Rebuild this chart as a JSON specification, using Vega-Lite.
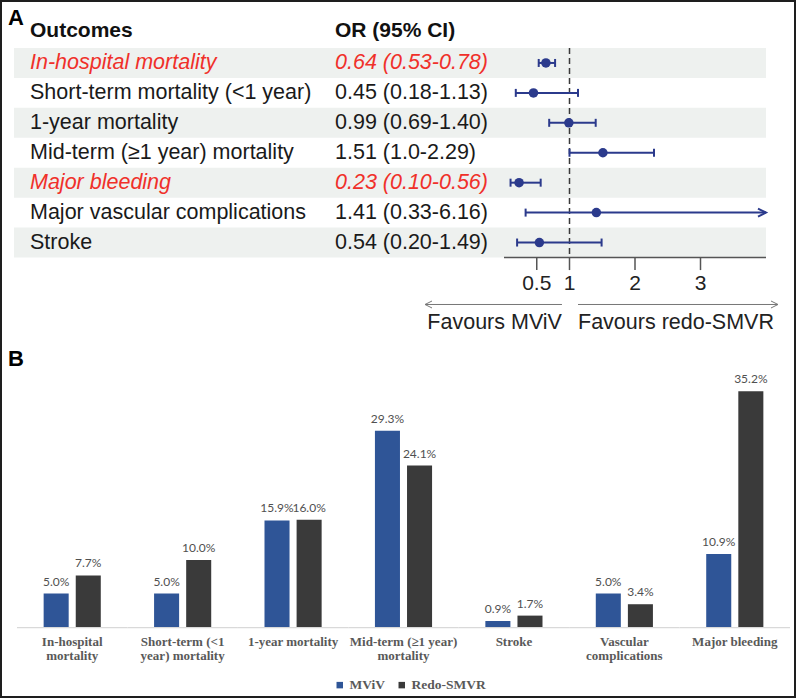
{
  "$schema": "https://vega.github.io/schema/vega-lite/v6.json",
  "width": 794,
  "height": 696,
  "padding": 1,
  "autosize": {"type": "none"},
  "background": "white",
  "config": {
    "view": {"stroke": "#1e1e1e", "strokeWidth": 2},
    "axis": {"disable": true},
    "font": "Liberation Sans"
  },
  "datasets": {
    "forest": [
      {"row": 1, "outcome": "In-hospital mortality", "or": 0.64, "lo": 0.53, "hi": 0.78, "ci": "0.64 (0.53-0.78)", "sig": true},
      {"row": 2, "outcome": "Short-term mortality (<1 year)", "or": 0.45, "lo": 0.18, "hi": 1.13, "ci": "0.45 (0.18-1.13)", "sig": false},
      {"row": 3, "outcome": "1-year mortality", "or": 0.99, "lo": 0.69, "hi": 1.40, "ci": "0.99 (0.69-1.40)", "sig": false},
      {"row": 4, "outcome": "Mid-term (≥1 year) mortality", "or": 1.51, "lo": 1.0, "hi": 2.29, "ci": "1.51 (1.0-2.29)", "sig": false},
      {"row": 5, "outcome": "Major bleeding", "or": 0.23, "lo": 0.10, "hi": 0.56, "ci": "0.23 (0.10-0.56)", "sig": true},
      {"row": 6, "outcome": "Major vascular complications", "or": 1.41, "lo": 0.33, "hi": 6.16, "ci": "1.41 (0.33-6.16)", "sig": false},
      {"row": 7, "outcome": "Stroke", "or": 0.54, "lo": 0.20, "hi": 1.49, "ci": "0.54 (0.20-1.49)", "sig": false}
    ],
    "bars": [
      {"cat": "In-hospital\nmortality", "group": "MViV", "value": 0.050},
      {"cat": "In-hospital\nmortality", "group": "Redo-SMVR", "value": 0.077},
      {"cat": "Short-term (<1\nyear) mortality", "group": "MViV", "value": 0.050},
      {"cat": "Short-term (<1\nyear) mortality", "group": "Redo-SMVR", "value": 0.100},
      {"cat": "1-year mortality", "group": "MViV", "value": 0.159},
      {"cat": "1-year mortality", "group": "Redo-SMVR", "value": 0.160},
      {"cat": "Mid-term (≥1 year)\nmortality", "group": "MViV", "value": 0.293},
      {"cat": "Mid-term (≥1 year)\nmortality", "group": "Redo-SMVR", "value": 0.241},
      {"cat": "Stroke", "group": "MViV", "value": 0.009},
      {"cat": "Stroke", "group": "Redo-SMVR", "value": 0.017},
      {"cat": "Vascular\ncomplications", "group": "MViV", "value": 0.050},
      {"cat": "Vascular\ncomplications", "group": "Redo-SMVR", "value": 0.034},
      {"cat": "Major bleeding", "group": "MViV", "value": 0.109},
      {"cat": "Major bleeding", "group": "Redo-SMVR", "value": 0.352}
    ]
  },
  "layer": [
    {
      "data": {"name": "forest"},
      "transform": [{"filter": "datum.row % 2 == 1"}],
      "mark": {"type": "rule", "strokeWidth": 30, "color": "#EEF1EF", "strokeCap": "butt"},
      "encoding": {
        "x": {"datum": 0, "type": "quantitative", "scale": {"domain": [0, 1], "range": [13, 765]}},
        "x2": {"datum": 1},
        "y": {"field": "row", "type": "quantitative", "scale": {"domain": [0.5, 7.5], "range": [47, 256.5]}}
      }
    },
    {
      "data": {"name": "forest"},
      "layer": [
        {
          "data": {"values": [{}]},
          "mark": {"type": "rule", "strokeDash": [6, 4], "color": "#3a3a3a", "strokeWidth": 1.5},
          "encoding": {
            "x": {"datum": 1, "type": "quantitative", "scale": {"domain": [0, 4], "range": [503, 765]}},
            "y": {"datum": 0.5, "type": "quantitative", "scale": {"domain": [0.5, 7.5], "range": [47, 256.5]}},
            "y2": {"datum": 7.5}
          }
        },
        {
          "data": {"values": [{}]},
          "mark": {"type": "rule", "color": "#555555", "strokeWidth": 1.5},
          "encoding": {
            "x": {"datum": 0, "type": "quantitative"},
            "x2": {"datum": 4},
            "y": {"datum": 7.5, "type": "quantitative"}
          }
        },
        {
          "data": {"values": [{"t": 0.5}, {"t": 1}, {"t": 2}, {"t": 3}]},
          "mark": {"type": "rule", "color": "#555555", "strokeWidth": 1.5},
          "encoding": {
            "x": {"field": "t", "type": "quantitative"},
            "y": {"datum": 7.5, "type": "quantitative"},
            "y2": {"datum": 7.92}
          }
        },
        {
          "data": {"values": [{"t": 0.5}, {"t": 1}, {"t": 2}, {"t": 3}]},
          "mark": {"type": "text", "fontSize": 21, "color": "#222222", "baseline": "middle", "align": "center"},
          "encoding": {
            "x": {"field": "t", "type": "quantitative"},
            "y": {"datum": 8.37, "type": "quantitative"},
            "text": {"field": "t", "type": "nominal"}
          }
        },
        {
          "transform": [{"filter": "datum.hi <= 4"}],
          "mark": {"type": "rule", "color": "#2B3A8C", "strokeWidth": 2},
          "encoding": {
            "x": {"field": "lo", "type": "quantitative"},
            "x2": {"field": "hi"},
            "y": {"field": "row", "type": "quantitative"}
          }
        },
        {
          "transform": [{"filter": "datum.hi > 4"}],
          "mark": {"type": "rule", "color": "#2B3A8C", "strokeWidth": 2},
          "encoding": {
            "x": {"field": "lo", "type": "quantitative"},
            "x2": {"datum": 4},
            "y": {"field": "row", "type": "quantitative"}
          }
        },
        {
          "mark": {"type": "point", "shape": "M0,-1L0,1", "size": 64, "strokeWidth": 2, "color": "#2B3A8C", "filled": false, "opacity": 1},
          "encoding": {
            "x": {"field": "lo", "type": "quantitative"},
            "y": {"field": "row", "type": "quantitative"}
          }
        },
        {
          "transform": [{"filter": "datum.hi <= 4"}],
          "mark": {"type": "point", "shape": "M0,-1L0,1", "size": 64, "strokeWidth": 2, "color": "#2B3A8C", "filled": false, "opacity": 1},
          "encoding": {
            "x": {"field": "hi", "type": "quantitative"},
            "y": {"field": "row", "type": "quantitative"}
          }
        },
        {
          "transform": [{"filter": "datum.hi > 4"}],
          "mark": {"type": "point", "shape": "M-2,-1L0,0L-2,1", "size": 64, "strokeWidth": 2, "color": "#2B3A8C", "filled": false, "opacity": 1},
          "encoding": {
            "x": {"datum": 4, "type": "quantitative"},
            "y": {"field": "row", "type": "quantitative"}
          }
        },
        {
          "mark": {"type": "point", "shape": "circle", "size": 90, "color": "#2B3A8C", "filled": true, "opacity": 1},
          "encoding": {
            "x": {"field": "or", "type": "quantitative"},
            "y": {"field": "row", "type": "quantitative"}
          }
        },
        {
          "data": {"values": [{}]},
          "mark": {"type": "rule", "color": "#777777", "strokeWidth": 1},
          "encoding": {
            "x": {"datum": -1.206, "type": "quantitative"},
            "x2": {"datum": 0.885},
            "y": {"datum": 9.07, "type": "quantitative"}
          }
        },
        {
          "data": {"values": [{}]},
          "mark": {"type": "rule", "color": "#777777", "strokeWidth": 1},
          "encoding": {
            "x": {"datum": 1.13, "type": "quantitative"},
            "x2": {"datum": 4.183},
            "y": {"datum": 9.07, "type": "quantitative"}
          }
        },
        {
          "data": {"values": [{}]},
          "mark": {"type": "point", "shape": "M2,-1L0,0L2,1", "size": 49, "strokeWidth": 1, "color": "#777777", "filled": false, "opacity": 1},
          "encoding": {
            "x": {"datum": -1.206, "type": "quantitative"},
            "y": {"datum": 9.07, "type": "quantitative"}
          }
        },
        {
          "data": {"values": [{}]},
          "mark": {"type": "point", "shape": "M-2,-1L0,0L-2,1", "size": 49, "strokeWidth": 1, "color": "#777777", "filled": false, "opacity": 1},
          "encoding": {
            "x": {"datum": 4.183, "type": "quantitative"},
            "y": {"datum": 9.07, "type": "quantitative"}
          }
        },
        {
          "data": {"values": [{}]},
          "mark": {"type": "text", "fontSize": 21.5, "color": "#222222", "baseline": "middle", "align": "right", "text": "Favours MViV"},
          "encoding": {
            "x": {"datum": 0.885, "type": "quantitative"},
            "y": {"datum": 9.7, "type": "quantitative"}
          }
        },
        {
          "data": {"values": [{}]},
          "mark": {"type": "text", "fontSize": 21.5, "color": "#222222", "baseline": "middle", "align": "left", "text": "Favours redo-SMVR"},
          "encoding": {
            "x": {"datum": 1.13, "type": "quantitative"},
            "y": {"datum": 9.7, "type": "quantitative"}
          }
        }
      ]
    },
    {
      "data": {"name": "forest"},
      "layer": [
        {
          "data": {"values": [{"col": "outcome", "title": "Outcomes"}, {"col": "or", "title": "OR (95% CI)"}]},
          "mark": {"type": "text", "fontSize": 21, "fontWeight": "bold", "color": "#111111", "align": "left", "baseline": "middle", "dy": -2},
          "encoding": {
            "x": {"field": "col", "type": "nominal", "scale": {"type": "point", "domain": ["outcome", "or"], "range": [29, 334], "padding": 0}},
            "y": {"datum": 0, "type": "quantitative", "scale": {"domain": [0.5, 7.5], "range": [47, 256.5]}},
            "text": {"field": "title", "type": "nominal"}
          }
        },
        {
          "data": {"values": [{}]},
          "mark": {"type": "text", "fontSize": 22, "fontWeight": "bold", "color": "#000000", "align": "left", "baseline": "middle", "dx": -22, "text": "A"},
          "encoding": {
            "x": {"datum": "outcome", "type": "nominal"},
            "y": {"datum": -0.5, "type": "quantitative"}
          }
        },
        {
          "transform": [{"filter": "!datum.sig"}],
          "mark": {"type": "text", "fontSize": 21.5, "color": "#1a1a1a", "align": "left", "baseline": "middle"},
          "encoding": {
            "x": {"datum": "outcome", "type": "nominal"},
            "y": {"field": "row", "type": "quantitative"},
            "text": {"field": "outcome", "type": "nominal"}
          }
        },
        {
          "transform": [{"filter": "datum.sig"}],
          "mark": {"type": "text", "fontSize": 21.5, "fontStyle": "italic", "color": "#F0302A", "align": "left", "baseline": "middle"},
          "encoding": {
            "x": {"datum": "outcome", "type": "nominal"},
            "y": {"field": "row", "type": "quantitative"},
            "text": {"field": "outcome", "type": "nominal"}
          }
        },
        {
          "transform": [{"filter": "!datum.sig"}],
          "mark": {"type": "text", "fontSize": 21.5, "color": "#1a1a1a", "align": "left", "baseline": "middle"},
          "encoding": {
            "x": {"datum": "or", "type": "nominal"},
            "y": {"field": "row", "type": "quantitative"},
            "text": {"field": "ci", "type": "nominal"}
          }
        },
        {
          "transform": [{"filter": "datum.sig"}],
          "mark": {"type": "text", "fontSize": 21.5, "fontStyle": "italic", "color": "#F0302A", "align": "left", "baseline": "middle"},
          "encoding": {
            "x": {"datum": "or", "type": "nominal"},
            "y": {"field": "row", "type": "quantitative"},
            "text": {"field": "ci", "type": "nominal"}
          }
        }
      ]
    },
    {
      "data": {"name": "bars"},
      "layer": [
        {
          "transform": [{"filter": "datum.group == 'MViV'"}],
          "mark": {"type": "rect", "color": "#D9D9D9"},
          "encoding": {
            "x": {"field": "cat", "type": "nominal", "scale": {"type": "band", "domain": ["In-hospital\nmortality", "Short-term (<1\nyear) mortality", "1-year mortality", "Mid-term (≥1 year)\nmortality", "Stroke", "Vascular\ncomplications", "Major bleeding"], "range": [16, 789], "paddingInner": 0, "paddingOuter": 0}},
            "y": {"datum": 0, "type": "quantitative", "scale": {"domain": [0, 0.4], "range": [626, 358]}},
            "y2": {"datum": -0.002}
          }
        },
        {
          "mark": {"type": "bar"},
          "encoding": {
            "x": {"field": "cat", "type": "nominal"},
            "xOffset": {"field": "group", "type": "nominal", "scale": {"paddingInner": 0.22, "paddingOuter": 0.83}},
            "y": {"field": "value", "type": "quantitative"},
            "color": {
              "field": "group", "type": "nominal",
              "scale": {"domain": ["MViV", "Redo-SMVR"], "range": ["#2F5597", "#3A3A3A"]},
              "legend": {"orient": "none", "legendX": 332, "legendY": 677, "direction": "horizontal", "title": null, "symbolType": "square", "symbolSize": 42, "symbolStrokeWidth": 0, "labelFont": "Liberation Serif", "labelFontWeight": "bold", "labelFontSize": 13.5, "labelColor": "#595959", "columnPadding": 10, "labelOffset": 3}
            }
          }
        },
        {
          "mark": {"type": "text", "font": "Lato", "fontSize": 12, "color": "#505050", "baseline": "alphabetic", "align": "center", "dy": -8},
          "encoding": {
            "x": {"field": "cat", "type": "nominal"},
            "xOffset": {"field": "group", "type": "nominal"},
            "y": {"field": "value", "type": "quantitative"},
            "text": {"field": "value", "type": "quantitative", "format": ".1%"}
          }
        },
        {
          "transform": [{"filter": "datum.group == 'MViV'"}],
          "mark": {"type": "text", "font": "Liberation Serif", "fontWeight": "bold", "fontSize": 13, "color": "#595959", "baseline": "top", "align": "center", "dy": 8.5, "lineBreak": "\n", "lineHeight": 14},
          "encoding": {
            "x": {"field": "cat", "type": "nominal"},
            "y": {"datum": 0, "type": "quantitative"},
            "text": {"field": "cat", "type": "nominal"}
          }
        },
        {
          "data": {"values": [{}]},
          "mark": {"type": "text", "fontSize": 22, "fontWeight": "bold", "color": "#000000", "align": "left", "baseline": "middle", "dx": -9, "text": "B"},
          "encoding": {
            "x": {"datum": "In-hospital\nmortality", "type": "nominal", "bandPosition": 0},
            "y": {"datum": 0.4, "type": "quantitative"}
          }
        }
      ]
    }
  ],
  "resolve": {"scale": {"x": "independent", "y": "independent"}}
}
